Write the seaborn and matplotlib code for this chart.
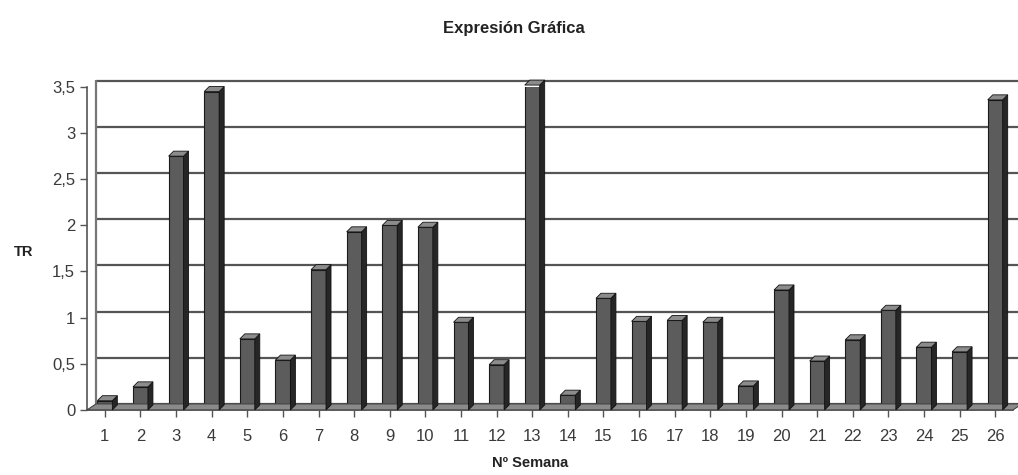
import numpy as np
import pandas as pd
import matplotlib
matplotlib.use('Agg')
import matplotlib.pyplot as plt
import matplotlib.transforms as mtransforms
from matplotlib.patches import Polygon
import seaborn as sns

# data
semanas = [str(i) for i in range(1, 27)]
tr = [0.10, 0.25, 2.75, 3.45, 0.77, 0.54, 1.52, 1.93, 2.00, 1.98,
      0.95, 0.49, 3.52, 0.16, 1.21, 0.96, 0.97, 0.95, 0.26, 1.30,
      0.53, 0.76, 1.08, 0.68, 0.63, 3.36]
yticks = [0, 0.5, 1, 1.5, 2, 2.5, 3, 3.5]
ytick_labels = ['0', '0,5', '1', '1,5', '2', '2,5', '3', '3,5']

df = pd.DataFrame({'Semana': semanas, 'TR': tr})

sns.set_style('white')
plt.rcParams['font.family'] = ['Liberation Sans', 'DejaVu Sans']

fig = plt.figure(figsize=(10.18, 4.75), dpi=100)
ax = fig.add_axes([0.0855, 0.137, 0.9096, 0.68])

# depth offset of the 3d look (pixels)
dx, dy = 9, 6
back = mtransforms.offset_copy(ax.transData, fig=fig, x=dx, y=dy, units='dots')

sns.barplot(data=df, x='Semana', y='TR', color='#5c5c5c', width=0.42,
            edgecolor='#1a1a1a', linewidth=0.8, ax=ax, zorder=3)

ax.set_xlim(-0.5, 25.5)
ax.set_ylim(0, 3.5)

# back wall grid lines
for t in yticks:
    ax.plot([-0.5, 25.5], [t, t], color='#555555', lw=1.6, transform=back,
            clip_on=False, zorder=1)
ax.plot([-0.5, -0.5], [0, 3.5], color='#777777', lw=1.6, transform=back,
        clip_on=False, zorder=1)

# floor
x0, x1 = -0.5, 25.5
p_front = [ax.transData.transform((x0, 0)), ax.transData.transform((x1, 0))]
floor = Polygon([p_front[0], p_front[1], p_front[1] + [dx, dy], p_front[0] + [dx, dy]],
                closed=True, transform=None, facecolor='#8a8a8a',
                edgecolor='#444444', lw=0.8, zorder=2)
fig.patches.append(floor)
floor.set_figure(fig)

# side and top faces of every bar
d = 5
for p in ax.patches:
    x, w, h = p.get_x(), p.get_width(), p.get_height()
    br = ax.transData.transform((x + w, 0))
    tl = ax.transData.transform((x, h))
    tr_ = ax.transData.transform((x + w, h))
    side = Polygon([br, tr_, tr_ + [d, d], br + [d, d]], closed=True,
                   transform=None, facecolor='#262626', edgecolor='#111111',
                   lw=0.6, zorder=4)
    top = Polygon([tl, tr_, tr_ + [d, d], tl + [d, d]], closed=True,
                  transform=None, facecolor='#8c8c8c', edgecolor='#111111',
                  lw=0.6, zorder=4)
    for poly in (side, top):
        poly.set_figure(fig)
        fig.artists.append(poly)

ax.set_yticks(yticks)
ax.set_yticklabels(ytick_labels)
for s in ['top', 'right']:
    ax.spines[s].set_visible(False)
ax.spines['left'].set_color('#555555')
ax.spines['bottom'].set_color('#555555')
ax.spines['left'].set_linewidth(1.2)
ax.spines['bottom'].set_linewidth(1.2)
ax.tick_params(axis='both', which='both', length=5, width=1, color='#555555',
               labelsize=12, labelcolor='#3a3a3a', left=True, bottom=True)
ax.tick_params(axis='x', pad=9)
ax.set_xlabel('Nº Semana', fontsize=10.5, fontweight='bold', color='#222222',
              va='center')
ax.xaxis.set_label_coords(0.478, -0.165)
ax.set_ylabel('TR', fontsize=10.5, fontweight='bold', rotation=0,
              va='center', ha='center', color='#222222')
ax.yaxis.set_label_coords(-0.069, 0.49)
fig.text(0.505, 0.941, 'Expresión Gráfica', fontsize=12, fontweight='bold',
         ha='center', va='center', color='#222222')

plt.savefig('out.png', dpi=100)
